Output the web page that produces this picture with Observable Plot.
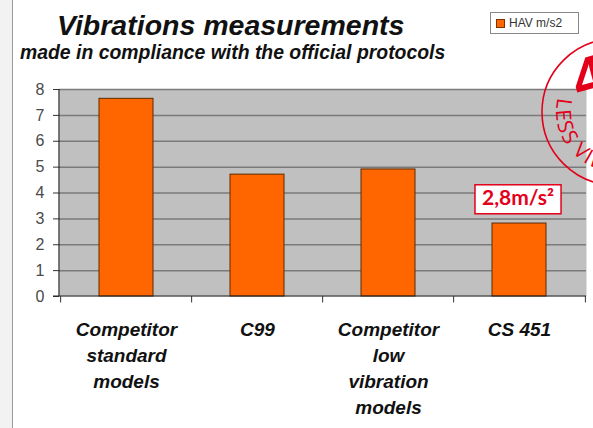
<!DOCTYPE html>
<html>
<head>
<meta charset="utf-8">
<script src="https://cdn.jsdelivr.net/npm/d3@7"></script>
<script src="https://cdn.jsdelivr.net/npm/@observablehq/plot@0.6"></script>
<style>
  html, body { margin: 0; padding: 0; background: #fff; }
  #wrap { position: relative; width: 593px; height: 428px; overflow: hidden; background: #fff; font-family: "Liberation Sans", Arial, sans-serif; }
  #leftstrip { position: absolute; left: 0; top: 0; width: 12px; height: 428px; background: #f2f2f2; border-right: 1.5px solid #9a9a9a; }
  #title { position: absolute; left: 57px; top: 10px; font-size: 28.5px; line-height: 1.1; font-weight: bold; font-style: italic; color: #111; white-space: nowrap; }
  #subtitle { position: absolute; left: 20px; top: 42px; font-size: 19.4px; line-height: 1.1; font-weight: bold; font-style: italic; color: #111; white-space: nowrap; }
  #legend { position: absolute; left: 490px; top: 12px; width: 89px; height: 22px; border: 1px solid #888; background: #fff; box-sizing: border-box; font-size: 12px; color: #333; display: flex; align-items: center; }
  #legend .sw { width: 7px; height: 7px; background: #ff6600; border: 1px solid #7a3300; margin: 0 4px 0 5px; }
  #chart { position: absolute; left: 0; top: 0; }
  #stamp { position: absolute; left: 0; top: 0; pointer-events: none; }
</style>
</head>
<body>
<div id="wrap">
  <div id="leftstrip"></div>
  <div id="chart"></div>
  <div id="title">Vibrations measurements</div>
  <div id="subtitle">made in compliance with the official protocols</div>
  <div id="legend"><span class="sw"></span><span>HAV m/s2</span></div>
</div>
<script>
// ---- data ----
const categories = ["Competitor standard models", "C99", "Competitor low vibration models", "CS 451"];
const tickLabels = ["Competitor\nstandard\nmodels", "C99", "Competitor\nlow\nvibration\nmodels", "CS 451"];
const values = [7.64, 4.71, 4.91, 2.82];
const yTicks = [0, 1, 2, 3, 4, 5, 6, 7, 8];
const seriesName = "HAV m/s2";
const annotCategory = ["CS 451"];
const annotValue = [2.8];
const annotText = ["2,8m/s²"];

const data = categories.map((c, i) => ({category: c, value: values[i]}));
const annots = annotCategory.map((c, i) => ({category: c, value: annotValue[i], label: annotText[i]}));
const labelOf = new Map(categories.map((c, i) => [c, tickLabels[i]]));

const W = 593, H = 428;
const mL = 59, mR = 7, mT = 89, mB = 132;
const step = (W - mL - mR) / categories.length;

const plot = Plot.plot({
  width: W,
  height: H,
  marginLeft: mL,
  marginRight: mR,
  marginTop: mT,
  marginBottom: mB,
  style: {fontFamily: "'Liberation Sans', Arial, sans-serif", background: "transparent", overflow: "visible"},
  x: {domain: categories, paddingInner: 0.59, paddingOuter: 0.295},
  y: {domain: [0, 8]},
  marks: [
    Plot.frame({fill: "#c0c0c0", stroke: "none"}),
    Plot.ruleY(yTicks.filter(d => d > 0), {stroke: "#7a7a7a", strokeWidth: 1.5}),
    Plot.barY(data, {x: "category", y: "value", fill: "#ff6600", stroke: "#5a2a00", strokeWidth: 1}),
    Plot.ruleX(categories, {x: d => d, y1: 0, y2: -0.25, dx: -step / 2, stroke: "#333"}),
    Plot.ruleX(categories.slice(-1), {x: d => d, y1: 0, y2: -0.25, dx: step / 2, stroke: "#333"}),
    Plot.axisY({ticks: yTicks, tickSize: 6, tickPadding: 9, fontSize: 16, fill: "#4a4a4a", stroke: "#333", label: null, tickFormat: d => String(d)}),
    Plot.axisX({tickSize: 0, tickPadding: 21, fontSize: 19, fontWeight: "bold", fontStyle: "italic", fill: "#111", lineHeight: 1.37, label: null, tickFormat: d => labelOf.get(d)}),
    Plot.text(annots, {x: "category", y: "value", text: "label", dy: -26, dx: -1.5, fill: "#e3001b", fontSize: 21, fontWeight: "bold", fontFamily: "Lato, 'Open Sans', sans-serif", lineAnchor: "middle"})
  ]
});
document.getElementById("chart").appendChild(plot);

// y axis line and x axis line
const svg = d3.select(plot);
const ys = plot.scale("y");
svg.append("line").attr("x1", mL).attr("x2", mL).attr("y1", ys.apply(8)).attr("y2", ys.apply(0)).attr("stroke", "#222").attr("stroke-width", 1.2);
svg.append("line").attr("x1", mL - 6).attr("x2", W - mR).attr("y1", ys.apply(0)).attr("y2", ys.apply(0)).attr("stroke", "#222").attr("stroke-width", 1.2);

// box around the annotation
svg.selectAll("text").filter(function() { return annotText.includes(this.textContent); }).each(function() {
  const b = this.getBBox();
  const t = this.getAttribute("transform");
  const rect = document.createElementNS("http://www.w3.org/2000/svg", "rect");
  rect.setAttribute("x", b.x - 7);
  rect.setAttribute("y", b.y + 1);
  rect.setAttribute("width", b.width + 14);
  rect.setAttribute("height", b.height + 4);
  rect.setAttribute("fill", "#fff");
  rect.setAttribute("stroke", "#e3001b");
  rect.setAttribute("stroke-width", 1.5);
  if (t) rect.setAttribute("transform", t);
  this.parentNode.insertBefore(rect, this);
});

// decorative stamp (partially off-page, as in the reference)
const st = d3.select("#wrap").append("svg").attr("id", "stamp").attr("width", W).attr("height", H);
const cx = 615, cy = 112, r = 73, rt = 59;
st.append("circle").attr("cx", cx).attr("cy", cy).attr("r", r).attr("fill", "none").attr("stroke", "#e3001b").attr("stroke-width", 1.6);
const a0 = 194 * Math.PI / 180, a1 = 20 * Math.PI / 180;
st.append("defs").append("path").attr("id", "arcp")
  .attr("d", `M${cx + rt * Math.cos(a0)},${cy + rt * Math.sin(a0)} A${rt},${rt} 0 0 0 ${cx + rt * Math.cos(a1)},${cy + rt * Math.sin(a1)}`);
st.append("text").attr("fill", "#e3001b").attr("font-size", 21).attr("font-family", "'Open Sans', sans-serif").attr("letter-spacing", 1.5)
  .append("textPath").attr("href", "#arcp").text("LESS VIBRATIONS");
st.append("text").attr("x", 572).attr("y", 98).attr("fill", "#e3001b").attr("font-size", 58).attr("font-weight", "bold")
  .attr("font-family", "'Liberation Sans', Arial, sans-serif").attr("transform", "rotate(-15 585 75)").text("4");
</script>
</body>
</html>
